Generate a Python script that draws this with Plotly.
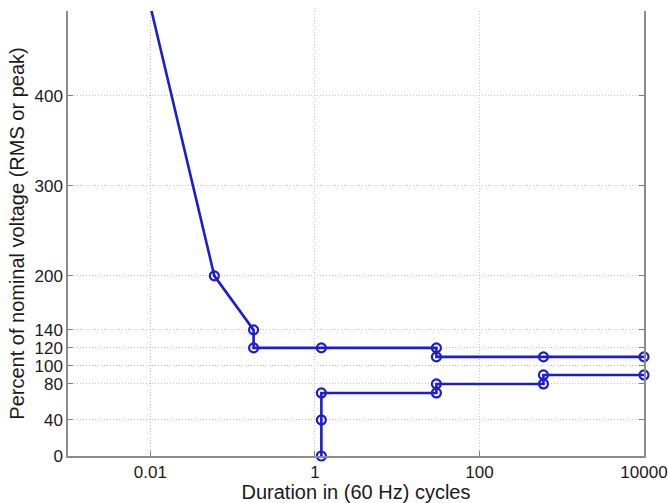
import plotly.graph_objects as go

# Voltage tolerance envelope (duration in 60 Hz cycles vs percent of nominal voltage)
upper_x = [0.01, 0.06, 0.18, 0.18, 1.2, 30, 30, 600, 10000]
upper_y = [500, 200, 140, 120, 120, 120, 110, 110, 110]

lower_x = [1.2, 1.2, 1.2, 30, 30, 600, 600, 10000]
lower_y = [0, 40, 70, 70, 80, 80, 90, 90]

x_tickvals = [0.01, 1, 100, 10000]
x_ticktext = ["0.01", "1", "100", "10000"]
y_tickvals = [0, 40, 80, 100, 120, 140, 200, 300, 400, 500]

BLUE = "#1c1cd0"
FONT = "Liberation Sans, Arial, Helvetica, sans-serif"

marker_style = dict(symbol="circle-open", size=9, color=BLUE, line=dict(width=2.2, color=BLUE))

fig = go.Figure()

# upper limit line (clipped to plot area)
fig.add_trace(go.Scatter(
    x=upper_x, y=upper_y, mode="lines",
    line=dict(color=BLUE, width=2.6), cliponaxis=True, showlegend=False,
))
# upper limit vertices (first vertex lies above the visible range)
fig.add_trace(go.Scatter(
    x=upper_x[1:], y=upper_y[1:], mode="markers",
    marker=marker_style, cliponaxis=False, showlegend=False,
))
# lower limit
fig.add_trace(go.Scatter(
    x=lower_x, y=lower_y, mode="lines+markers",
    line=dict(color=BLUE, width=2.6), marker=marker_style,
    cliponaxis=False, showlegend=False,
))

grid = dict(showgrid=True, gridcolor="#c4c4c4", griddash="1px,2px", gridwidth=1)

fig.update_layout(
    width=668, height=503,
    margin=dict(l=68, r=24, t=11, b=47),
    paper_bgcolor="white", plot_bgcolor="white",
    font=dict(family=FONT, size=17, color="#1a1a1a"),
    xaxis=dict(
        type="log", range=[-3, 4], automargin=False,
        tickvals=x_tickvals, ticktext=x_ticktext,
        ticks="inside", ticklen=5, tickcolor="#808080",
        showline=True, linecolor="#8c8c8c", linewidth=1.5, mirror=False,
        zeroline=False,
        title=dict(text="Duration in (60 Hz) cycles", font=dict(size=20), standoff=2),
        **grid,
    ),
    yaxis=dict(
        range=[0, 494], automargin=False,
        tickvals=y_tickvals,
        ticks="inside", ticklen=5, tickcolor="#808080",
        showline=True, linecolor="#8c8c8c", linewidth=1.5, mirror="ticks",
        zeroline=False,
        title=dict(text="Percent of nominal voltage (RMS or peak)", font=dict(size=20), standoff=4),
        **grid,
    ),
)

fig.write_html("out.html")
